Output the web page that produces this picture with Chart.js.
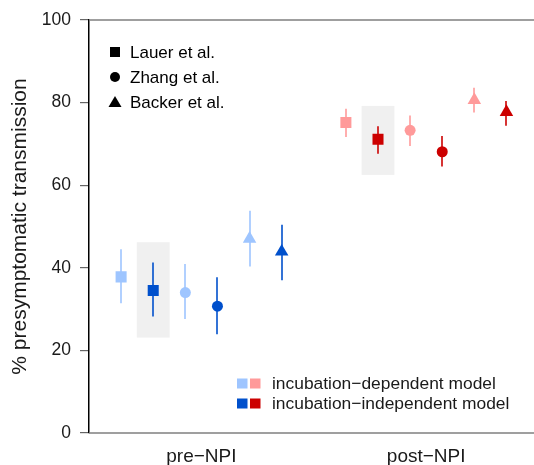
<!DOCTYPE html>
<html>
<head>
<meta charset="utf-8">
<script src="https://cdn.jsdelivr.net/npm/chart.js@4.4.1/dist/chart.umd.min.js"></script>
<style>
  html, body { margin: 0; padding: 0; background: #fff; overflow: hidden; }
  #wrap { width: 534px; height: 465px; }
</style>
</head>
<body>
<div id="wrap"><canvas id="chart"></canvas></div>
<script>
const groups = ["pre\u2212NPI", "post\u2212NPI"];
const studies = ["Lauer et al.", "Zhang et al.", "Backer et al."];
const models = ["incubation\u2212dependent model", "incubation\u2212independent model"];
const shapes = ["rect", "circle", "triangle"];

// Lauer, Zhang, Backer for pre-NPI then post-NPI
const depMid  = [37.8, 34.0, 47.0, 75.2, 73.3, 80.6];
const depLow  = [31.4, 27.6, 40.3, 71.7, 69.5, 77.6];
const depHigh = [44.5, 40.9, 53.8, 78.5, 76.9, 83.6];
const indMid  = [34.5, 30.7, 43.9, 71.1, 68.1, 77.7];
const indLow  = [28.2, 23.9, 37.0, 67.6, 64.5, 74.4];
const indHigh = [41.3, 37.7, 50.4, 74.3, 71.9, 80.4];

// grey band behind the Lauer incubation-independent estimate
const bandLow  = [23.1, 62.5];
const bandHigh = [46.2, 79.2];

const yTicks = [0, 20, 40, 60, 80, 100];

const lightCol = ["#9ec5ff", "#ff9a9a"];
const darkCol  = ["#0050cc", "#cc0000"];
const FONT = "'Liberation Sans', Arial, sans-serif";

const step = 1 / 7;
const xPos = (i, m) => Math.floor(i / 3) + 1 + (-2.5 + 2 * (i % 3) + m) * step;
const radius = s => s === "circle" ? 5.5 : 7.8;

function makeSet(label, mid, low, high, m, cols) {
    return {
        label: label,
        data: mid.map((y, i) => ({ x: xPos(i, m), y: y, lo: low[i], hi: high[i] })),
        pointStyle: mid.map((_, i) => shapes[i % 3]),
        pointRadius: mid.map((_, i) => radius(shapes[i % 3])),
        backgroundColor: mid.map((_, i) => cols[Math.floor(i / 3)]),
        borderWidth: 0,
        showLine: false
    };
}

const extras = {
    id: "extras",
    beforeDatasetsDraw(chart) {
        const { ctx, chartArea, scales: { x, y } } = chart;
        ctx.save();
        // top and bottom frame lines
        ctx.strokeStyle = "#808080";
        ctx.lineWidth = 1.5;
        ctx.beginPath();
        ctx.moveTo(chartArea.left, chartArea.top);
        ctx.lineTo(chart.width, chartArea.top);
        ctx.moveTo(chartArea.left, chartArea.bottom);
        ctx.lineTo(chart.width, chartArea.bottom);
        ctx.stroke();

        // grey bands
        ctx.fillStyle = "#f0f0f0";
        bandLow.forEach((lo, g) => {
            const cx = x.getPixelForValue(xPos(g * 3, 1));
            const hw = x.getPixelForValue(1 + 0.073) - x.getPixelForValue(1);
            const top = y.getPixelForValue(bandHigh[g]);
            ctx.fillRect(cx - hw, top, 2 * hw, y.getPixelForValue(lo) - top);
        });

        // error bars
        ctx.lineWidth = 1.6;
        chart.data.datasets.forEach(ds => {
            ds.data.forEach((p, i) => {
                const px = Math.round(x.getPixelForValue(p.x));
                ctx.strokeStyle = ds.backgroundColor[i];
                ctx.beginPath();
                ctx.moveTo(px, y.getPixelForValue(p.lo));
                ctx.lineTo(px, y.getPixelForValue(p.hi));
                ctx.stroke();
            });
        });
        ctx.restore();
    },
    afterDraw(chart) {
        const ctx = chart.ctx;
        ctx.save();
        ctx.font = "17px " + FONT;
        ctx.textBaseline = "middle";
        ctx.textAlign = "left";

        // study legend (marker shapes)
        const rows = [52, 77, 102];
        studies.forEach((name, i) => {
            const cx = 115, cy = rows[i];
            ctx.fillStyle = "#000";
            ctx.beginPath();
            if (shapes[i] === "rect") {
                ctx.rect(cx - 5, cy - 5, 10, 10);
            } else if (shapes[i] === "circle") {
                ctx.arc(cx, cy, 5, 0, Math.PI * 2);
            } else {
                ctx.moveTo(cx, cy - 6);
                ctx.lineTo(cx + 6.5, cy + 5);
                ctx.lineTo(cx - 6.5, cy + 5);
                ctx.closePath();
            }
            ctx.fill();
            ctx.fillText(name, 130, cy + 1);
        });

        // model legend (colours)
        const rows2 = [383.5, 403.5];
        ctx.font = "17.4px " + FONT;
        models.forEach((name, m) => {
            const cols = m === 0 ? lightCol : darkCol;
            ctx.fillStyle = cols[0];
            ctx.fillRect(237, rows2[m] - 5, 10.5, 10);
            ctx.fillStyle = cols[1];
            ctx.fillRect(250, rows2[m] - 5, 10.5, 10);
            ctx.fillStyle = "#1a1a1a";
            ctx.fillText(name, 272, rows2[m] + 1);
        });
        ctx.restore();
    }
};

new Chart(document.getElementById("chart"), {
    type: "scatter",
    data: {
        datasets: [
            makeSet(models[0], depMid, depLow, depHigh, 0, lightCol),
            makeSet(models[1], indMid, indLow, indHigh, 1, darkCol)
        ]
    },
    options: {
        responsive: true,
        maintainAspectRatio: false,
        animation: false,
        events: [],
        layout: { padding: { top: 20, right: 0, left: 0, bottom: 0 } },
        plugins: {
            legend: { display: false },
            tooltip: { enabled: false }
        },
        scales: {
            x: {
                type: "linear",
                min: 0.5,
                max: 2.445,
                afterBuildTicks: axis => { axis.ticks = groups.map((_, i) => ({ value: i + 1 })); },
                afterFit: axis => { axis.height = 32; axis.paddingLeft = 0; axis.paddingRight = 0; },
                ticks: {
                    callback: v => groups[v - 1] || "",
                    color: "#1a1a1a",
                    font: { family: FONT, size: 19 },
                    padding: 12.5,
                    maxRotation: 0,
                    autoSkip: false
                },
                grid: { display: true, drawOnChartArea: false, drawTicks: false },
                border: { display: false }
            },
            y: {
                min: 0,
                max: 100,
                afterBuildTicks: axis => { axis.ticks = yTicks.map(v => ({ value: v })); },
                afterFit: axis => { axis.width = 89; axis.paddingTop = 0; axis.paddingBottom = 0; },
                ticks: {
                    color: "#1a1a1a",
                    font: { family: FONT, size: 17.5 },
                    padding: 9
                },
                grid: { drawOnChartArea: false, drawTicks: true, tickLength: 9, color: "#666", lineWidth: 1.2 },
                border: { color: "#000", width: 1.5 },
                title: {
                    display: true,
                    text: "% presymptomatic transmission",
                    color: "#1a1a1a",
                    font: { family: FONT, size: 21 },
                    padding: { top: 8, bottom: 0 }
                }
            }
        }
    },
    plugins: [extras]
});
</script>
</body>
</html>
